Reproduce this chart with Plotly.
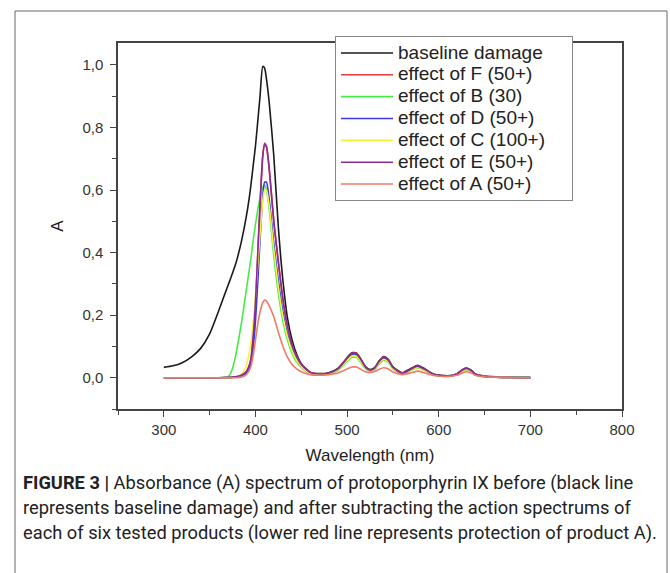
import plotly.graph_objects as go

wavelength = [300, 310, 320, 330, 340, 350, 360, 370, 373, 375, 378, 380, 385, 390, 393, 395, 398,
              400, 403, 405, 408, 410, 412, 415, 420, 425, 430, 435, 440, 445, 450, 460, 470, 480,
              490, 500, 505, 510, 515, 520, 525, 530, 535, 540, 545, 550, 560, 570, 577, 585, 595,
              610, 620, 625, 630, 635, 640, 650, 670, 700]

baseline = [0.033, 0.038, 0.048, 0.066, 0.093, 0.14, 0.215, 0.295, 0.318, 0.335, 0.36, 0.38, 0.44,
            0.515, 0.57, 0.615, 0.69, 0.74, 0.835, 0.9, 0.995, 0.99, 0.955, 0.88, 0.71, 0.48, 0.31,
            0.19, 0.12, 0.075, 0.045, 0.017, 0.013, 0.016, 0.03, 0.064, 0.08, 0.079, 0.06, 0.036,
            0.026, 0.032, 0.054, 0.068, 0.059, 0.035, 0.016, 0.03, 0.04, 0.028, 0.011, 0.006, 0.013,
            0.024, 0.031, 0.025, 0.012, 0.005, 0.002, 0.001]

effect_F = [0, 0, 0, 0, 0, 0, 0, 0.001, 0.001, 0.002, 0.003, 0.004, 0.008, 0.018, 0.035, 0.055,
            0.14, 0.23, 0.42, 0.55, 0.71, 0.75, 0.74, 0.67, 0.50, 0.37, 0.25, 0.165, 0.105, 0.068,
            0.042, 0.017, 0.012, 0.014, 0.028, 0.062, 0.078, 0.078, 0.058, 0.034, 0.024, 0.03,
            0.052, 0.066, 0.057, 0.033, 0.014, 0.028, 0.038, 0.026, 0.01, 0.005, 0.012, 0.023,
            0.03, 0.024, 0.011, 0.004, 0.001, 0.0]

effect_B = [0, 0, 0, 0, 0, 0, 0, 0.003, 0.015, 0.03, 0.065, 0.095, 0.18, 0.28, 0.34, 0.38, 0.45,
            0.49, 0.545, 0.575, 0.61, 0.615, 0.6, 0.54, 0.39, 0.27, 0.18, 0.12, 0.078, 0.05, 0.033,
            0.012, 0.01, 0.012, 0.023, 0.052, 0.065, 0.065, 0.049, 0.029, 0.021, 0.026, 0.044,
            0.056, 0.048, 0.028, 0.012, 0.024, 0.032, 0.022, 0.008, 0.004, 0.01, 0.019, 0.026,
            0.02, 0.009, 0.003, 0.001, 0.0]

effect_D = [0, 0, 0, 0, 0, 0, 0, 0, 0, 0.001, 0.002, 0.003, 0.006, 0.015, 0.03, 0.048, 0.11,
            0.18, 0.33, 0.44, 0.58, 0.625, 0.625, 0.57, 0.43, 0.31, 0.21, 0.14, 0.09, 0.058, 0.037,
            0.011, 0.01, 0.013, 0.026, 0.058, 0.073, 0.073, 0.055, 0.032, 0.023, 0.028, 0.049,
            0.062, 0.054, 0.031, 0.013, 0.026, 0.036, 0.025, 0.009, 0.005, 0.011, 0.021, 0.028,
            0.022, 0.01, 0.004, 0.001, 0.0]

effect_C = [0, 0, 0, 0, 0, 0, 0, 0, 0, 0, 0.002, 0.004, 0.012, 0.04, 0.075, 0.11, 0.19, 0.26,
            0.38, 0.46, 0.565, 0.6, 0.6, 0.55, 0.41, 0.29, 0.195, 0.13, 0.085, 0.055, 0.036, 0.011,
            0.01, 0.012, 0.025, 0.055, 0.069, 0.069, 0.052, 0.031, 0.022, 0.027, 0.047, 0.059,
            0.051, 0.03, 0.013, 0.025, 0.034, 0.023, 0.009, 0.004, 0.011, 0.02, 0.027, 0.021, 0.01,
            0.004, 0.001, 0.0]

effect_E = [0, 0, 0, 0, 0, 0, 0, 0.001, 0.001, 0.002, 0.003, 0.004, 0.009, 0.02, 0.038, 0.06,
            0.15, 0.24, 0.43, 0.555, 0.71, 0.745, 0.738, 0.668, 0.5, 0.37, 0.25, 0.165, 0.105,
            0.068, 0.042, 0.017, 0.012, 0.014, 0.028, 0.062, 0.077, 0.077, 0.058, 0.034, 0.024,
            0.03, 0.052, 0.065, 0.056, 0.033, 0.014, 0.028, 0.037, 0.026, 0.01, 0.005, 0.012,
            0.023, 0.03, 0.024, 0.011, 0.004, 0.001, 0.0]

effect_A = [0, 0, 0, 0, 0, 0, 0, 0, 0, 0, 0, 0, 0.002, 0.01, 0.022, 0.035, 0.08, 0.12, 0.18,
            0.21, 0.24, 0.248, 0.245, 0.23, 0.195, 0.145, 0.1, 0.065, 0.042, 0.028, 0.019, 0.01,
            0.008, 0.01, 0.015, 0.028, 0.034, 0.034, 0.027, 0.019, 0.017, 0.02, 0.027, 0.032,
            0.028, 0.018, 0.01, 0.016, 0.021, 0.015, 0.007, 0.004, 0.008, 0.014, 0.019, 0.016,
            0.008, 0.003, 0.001, 0.0]

series_names = ["baseline damage", "effect of F (50+)", "effect of B (30)", "effect of D (50+)",
                "effect of C (100+)", "effect of E (50+)", "effect of A (50+)"]
series_values = [baseline, effect_F, effect_B, effect_D, effect_C, effect_E, effect_A]
series_colors = ["#1a1a1a", "#e8383c", "#46ec46", "#3a3ae0", "#f4f43a", "#8a2c96", "#f07a68"]

x_ticks = [300, 400, 500, 600, 700, 800]
y_ticks = [0.0, 0.2, 0.4, 0.6, 0.8, 1.0]

caption_lines = [
    "<b>FIGURE 3 |</b> Absorbance (A) spectrum of protoporphyrin IX before (black line",
    "represents baseline damage) and after subtracting the action spectrums of",
    "each of six tested products (lower red line represents protection of product A).",
]

fig = go.Figure()
for name, vals, col in zip(series_names, series_values, series_colors):
    fig.add_trace(go.Scatter(x=wavelength, y=vals, mode="lines",
                             name='<span style="font-size:19px">' + name + '\u00a0\u00a0\u00a0\u00a0</span>',
                             line=dict(color=col, width=1.6, shape="spline", smoothing=0.6)))

axis_common = dict(showline=True, linecolor="#444", linewidth=1.5, mirror=True,
                   showgrid=False, zeroline=False, ticks="outside", ticklen=6,
                   tickcolor="#444", tickwidth=1.2,
                   tickfont=dict(family="Liberation Sans, Arial, sans-serif", size=15, color="#333"))

fig.update_xaxes(range=[250, 800], tickvals=x_ticks,
                 minor=dict(ticks="outside", dtick=50, tick0=250, ticklen=4, tickcolor="#444"),
                 title=dict(text="Wavelength (nm)", standoff=12,
                            font=dict(family="Liberation Sans, Arial, sans-serif", size=17, color="#222")),
                 **axis_common)
fig.update_yaxes(range=[-0.1, 1.07], tickvals=y_ticks, tickformat=".1f", ticklabelstandoff=4,
                 minor=dict(ticks="outside", dtick=0.1, tick0=0, ticklen=4, tickcolor="#444"),
                 title=dict(text="A", standoff=14,
                            font=dict(family="Liberation Sans, Arial, sans-serif", size=17, color="#222")),
                 **axis_common)

pw, ph = 504, 366
ml, mb = 118, 164

def px_x(px):
    return (px - ml) / pw

def px_y(py):
    return (573 - mb - py) / ph

fig.add_shape(type="rect", xref="paper", yref="paper",
              x0=px_x(15), x1=px_x(667), y0=px_y(590), y1=px_y(11),
              line=dict(color="#666", width=1), layer="below")

for i, line in enumerate(caption_lines):
    fig.add_annotation(text=line, xref="paper", yref="paper", x=px_x(21), y=px_y(483 + 25 * i),
                       xanchor="left", yanchor="middle", showarrow=False, align="left",
                       font=dict(family="Roboto, sans-serif", size=18.3, color="#222"))

fig.update_layout(
    width=670, height=573,
    margin=dict(l=ml, r=670 - ml - pw, t=573 - mb - ph, b=mb),
    paper_bgcolor="white", plot_bgcolor="white",
    separators=", ",
    showlegend=True,
    legend=dict(x=px_x(335), y=px_y(36), xanchor="left", yanchor="top",
                bgcolor="white", bordercolor="#888", borderwidth=1,
                font=dict(family="Liberation Sans, Arial, sans-serif", size=14.5, color="#222"),
                tracegroupgap=0, itemwidth=52),
)

fig.write_html("out.html", config={"displayModeBar": False},
               post_script="document.body.style.margin='0px';")
